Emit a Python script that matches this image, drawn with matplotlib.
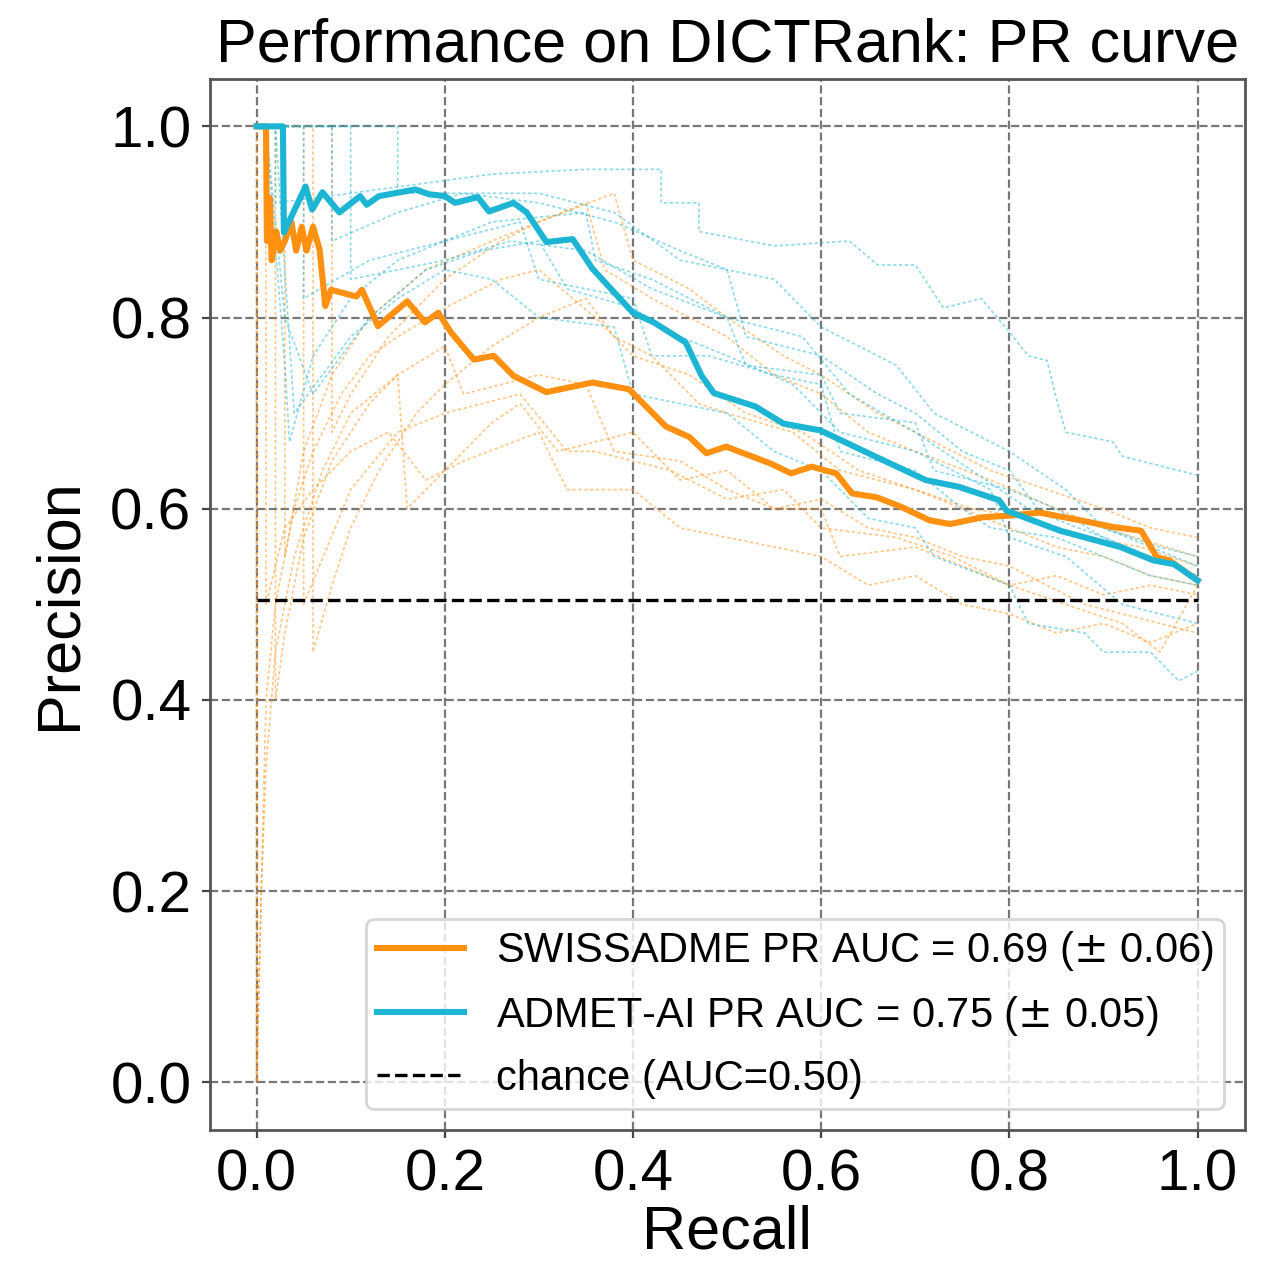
import matplotlib
matplotlib.use("Agg")
import matplotlib.pyplot as plt

plt.rcParams['font.family'] = ['Liberation Sans', 'DejaVu Sans']

ORANGE = '#ff9010'
CYAN = '#1cb5d4'

# mean curves (recall, precision)
swiss_recall = [0.000, 0.010, 0.011, 0.014, 0.016, 0.021, 0.025, 0.030, 0.037, 0.042, 0.048,
                0.053, 0.060, 0.067, 0.073, 0.079, 0.106, 0.112, 0.129, 0.160, 0.179, 0.193,
                0.207, 0.231, 0.252, 0.273, 0.308, 0.357, 0.396, 0.435, 0.460, 0.478, 0.499,
                0.547, 0.568, 0.590, 0.616, 0.633, 0.659, 0.685, 0.715, 0.737, 0.771, 0.802,
                0.832, 0.875, 0.910, 0.940, 0.957, 0.970, 1.000]
swiss_precision = [1.000, 1.000, 0.880, 0.925, 0.860, 0.890, 0.870, 0.880, 0.900, 0.870, 0.895,
                   0.870, 0.895, 0.871, 0.812, 0.829, 0.822, 0.829, 0.791, 0.817, 0.795, 0.805,
                   0.784, 0.756, 0.760, 0.739, 0.722, 0.732, 0.725, 0.686, 0.675, 0.658, 0.665,
                   0.647, 0.637, 0.644, 0.637, 0.616, 0.612, 0.602, 0.588, 0.584, 0.591, 0.593,
                   0.596, 0.588, 0.581, 0.577, 0.549, 0.546, 0.525]

admet_recall = [0.000, 0.028, 0.029, 0.052, 0.059, 0.070, 0.088, 0.110, 0.117, 0.130, 0.169,
                0.183, 0.200, 0.211, 0.235, 0.247, 0.273, 0.287, 0.308, 0.336, 0.357, 0.400,
                0.422, 0.456, 0.473, 0.486, 0.530, 0.560, 0.599, 0.659, 0.711, 0.746, 0.789,
                0.797, 0.854, 0.918, 0.953, 0.975, 1.000]
admet_precision = [1.000, 1.000, 0.889, 0.937, 0.913, 0.931, 0.910, 0.927, 0.918, 0.927, 0.934,
                   0.929, 0.927, 0.920, 0.926, 0.911, 0.920, 0.910, 0.879, 0.882, 0.851, 0.805,
                   0.795, 0.774, 0.739, 0.721, 0.707, 0.689, 0.682, 0.654, 0.630, 0.623, 0.609,
                   0.598, 0.577, 0.560, 0.546, 0.542, 0.525]

# per-fold curves
swiss_folds_recall = [
    [0, 0, 0.005, 0.01, 0.02, 0.04, 0.07, 0.1, 0.15, 0.2, 0.22, 0.3, 0.35, 0.38, 0.45, 0.5, 0.55, 0.6, 0.62, 0.7, 0.75, 0.8, 0.85, 0.9, 0.95, 1.0],
    [0, 0.02, 0.02, 0.03, 0.05, 0.08, 0.12, 0.15, 0.16, 0.2, 0.25, 0.28, 0.32, 0.4, 0.45, 0.5, 0.55, 0.6, 0.65, 0.7, 0.75, 0.8, 0.88, 0.92, 1.0],
    [0, 0.06, 0.06, 0.08, 0.1, 0.13, 0.17, 0.2, 0.25, 0.3, 0.35, 0.38, 0.42, 0.47, 0.5, 0.57, 0.62, 0.7, 0.75, 0.8, 0.85, 0.9, 0.95, 1.0],
    [0, 0.03, 0.03, 0.05, 0.08, 0.12, 0.18, 0.25, 0.3, 0.35, 0.37, 0.42, 0.5, 0.55, 0.6, 0.65, 0.7, 0.78, 0.85, 0.9, 1.0],
    [0, 0.01, 0.01, 0.03, 0.06, 0.1, 0.14, 0.18, 0.22, 0.3, 0.33, 0.4, 0.45, 0.5, 0.55, 0.6, 0.65, 0.7, 0.75, 0.8, 0.85, 0.9, 0.95, 1.0],
    [0, 0, 0.01, 0.02, 0.04, 0.06, 0.09, 0.12, 0.15, 0.2, 0.26, 0.3, 0.36, 0.4, 0.46, 0.52, 0.58, 0.64, 0.7, 0.76, 0.82, 0.88, 0.94, 1.0],
    [0, 0.08, 0.08, 0.1, 0.14, 0.2, 0.26, 0.3, 0.38, 0.40, 0.46, 0.5, 0.56, 0.6, 0.66, 0.72, 0.78, 0.84, 0.9, 0.95, 1.0],
    [0, 0.05, 0.05, 0.1, 0.15, 0.2, 0.28, 0.33, 0.36, 0.44, 0.5, 0.56, 0.6, 0.68, 0.74, 0.8, 0.86, 0.92, 0.96, 1.0],
]
swiss_folds_precision = [
    [1, 0, 0.2, 0.33, 0.45, 0.55, 0.64, 0.70, 0.74, 0.77, 0.72, 0.74, 0.73, 0.66, 0.65, 0.62, 0.60, 0.60, 0.55, 0.56, 0.54, 0.52, 0.53, 0.51, 0.52, 0.51],
    [1, 1, 0.4, 0.47, 0.57, 0.65, 0.71, 0.74, 0.60, 0.64, 0.69, 0.71, 0.66, 0.68, 0.63, 0.64, 0.60, 0.61, 0.58, 0.57, 0.55, 0.54, 0.50, 0.49, 0.47],
    [1, 1, 0.45, 0.52, 0.58, 0.64, 0.70, 0.73, 0.77, 0.80, 0.82, 0.78, 0.76, 0.71, 0.70, 0.68, 0.64, 0.62, 0.60, 0.58, 0.56, 0.55, 0.53, 0.52],
    [1, 1, 0.55, 0.66, 0.74, 0.80, 0.85, 0.88, 0.90, 0.92, 0.85, 0.82, 0.78, 0.74, 0.72, 0.68, 0.66, 0.63, 0.60, 0.58, 0.55],
    [1, 1, 0.5, 0.58, 0.62, 0.66, 0.68, 0.63, 0.65, 0.68, 0.62, 0.62, 0.58, 0.57, 0.56, 0.55, 0.52, 0.53, 0.50, 0.49, 0.47, 0.48, 0.46, 0.48],
    [1, 0, 0.4, 0.5, 0.6, 0.66, 0.72, 0.76, 0.78, 0.81, 0.84, 0.85, 0.80, 0.76, 0.74, 0.70, 0.68, 0.64, 0.62, 0.60, 0.59, 0.57, 0.56, 0.54],
    [1, 1, 0.68, 0.72, 0.78, 0.84, 0.88, 0.90, 0.93, 0.86, 0.83, 0.80, 0.76, 0.74, 0.70, 0.67, 0.64, 0.62, 0.60, 0.58, 0.57],
    [1, 1, 0.5, 0.62, 0.68, 0.70, 0.72, 0.66, 0.66, 0.64, 0.61, 0.62, 0.58, 0.57, 0.55, 0.52, 0.50, 0.48, 0.45, 0.52],
]

admet_folds_recall = [
    [0, 0.02, 0.02, 0.1, 0.25, 0.35, 0.40, 0.43, 0.43, 0.47, 0.47, 0.55, 0.63, 0.66, 0.70, 0.71, 0.73, 0.77, 0.80, 0.82, 0.84, 0.85, 0.86, 0.91, 0.92, 1.0],
    [0, 0.01, 0.03, 0.035, 0.06, 0.1, 0.15, 0.2, 0.25, 0.3, 0.35, 0.36, 0.42, 0.5, 0.52, 0.6, 0.62, 0.7, 0.72, 0.8, 0.85, 0.9, 0.95, 1.0],
    [0, 0.05, 0.05, 0.12, 0.2, 0.28, 0.30, 0.35, 0.40, 0.42, 0.48, 0.55, 0.6, 0.62, 0.7, 0.75, 0.78, 0.85, 0.9, 0.95, 1.0],
    [0, 0.02, 0.04, 0.1, 0.15, 0.2, 0.25, 0.3, 0.38, 0.4, 0.5, 0.55, 0.6, 0.65, 0.7, 0.72, 0.8, 0.82, 0.88, 0.9, 0.95, 0.98, 1.0],
    [0, 0.08, 0.08, 0.15, 0.22, 0.3, 0.38, 0.45, 0.5, 0.52, 0.6, 0.66, 0.7, 0.75, 0.8, 0.83, 0.9, 0.95, 1.0],
    [0, 0.01, 0.03, 0.06, 0.12, 0.18, 0.24, 0.3, 0.33, 0.4, 0.45, 0.5, 0.57, 0.62, 0.7, 0.78, 0.8, 0.86, 0.92, 1.0],
    [0, 0.15, 0.15, 0.2, 0.3, 0.38, 0.45, 0.55, 0.60, 0.68, 0.72, 0.8, 0.86, 0.9, 0.96, 1.0],
    [0, 0.1, 0.1, 0.2, 0.27, 0.35, 0.42, 0.5, 0.58, 0.63, 0.7, 0.76, 0.82, 0.9, 1.0],
]
admet_folds_precision = [
    [1, 1, 0.92, 0.93, 0.95, 0.955, 0.955, 0.955, 0.92, 0.92, 0.89, 0.875, 0.88, 0.855, 0.855, 0.84, 0.81, 0.82, 0.785, 0.76, 0.755, 0.715, 0.68, 0.67, 0.655, 0.635],
    [1, 1, 0.75, 0.67, 0.76, 0.82, 0.86, 0.88, 0.90, 0.905, 0.91, 0.86, 0.84, 0.80, 0.75, 0.74, 0.70, 0.69, 0.64, 0.62, 0.60, 0.57, 0.55, 0.53],
    [1, 1, 0.82, 0.86, 0.88, 0.90, 0.84, 0.83, 0.82, 0.76, 0.76, 0.74, 0.73, 0.66, 0.64, 0.60, 0.58, 0.57, 0.55, 0.53, 0.52],
    [1, 1, 0.7, 0.78, 0.82, 0.85, 0.84, 0.80, 0.79, 0.72, 0.70, 0.66, 0.64, 0.59, 0.58, 0.55, 0.52, 0.48, 0.47, 0.45, 0.45, 0.42, 0.43],
    [1, 1, 0.88, 0.91, 0.93, 0.92, 0.90, 0.87, 0.85, 0.78, 0.76, 0.72, 0.70, 0.66, 0.64, 0.60, 0.58, 0.56, 0.54],
    [1, 1, 0.8, 0.72, 0.80, 0.85, 0.87, 0.88, 0.83, 0.81, 0.78, 0.76, 0.73, 0.68, 0.66, 0.62, 0.57, 0.55, 0.50, 0.48],
    [1, 1, 0.93, 0.93, 0.93, 0.91, 0.86, 0.84, 0.79, 0.75, 0.70, 0.66, 0.62, 0.58, 0.56, 0.55],
    [1, 1, 0.84, 0.86, 0.88, 0.87, 0.83, 0.80, 0.78, 0.72, 0.68, 0.64, 0.60, 0.57, 0.53],
]

chance_level = 0.505
labels = ['SWISSADME PR AUC = 0.69 ($\\pm$ 0.06)',
          'ADMET-AI PR AUC = 0.75 ($\\pm$ 0.05)',
          'chance (AUC=0.50)']

fig = plt.figure(figsize=(6.35, 6.335), dpi=200)
ax = fig.add_axes([0.165, 0.108, 0.815, 0.830])

for r, p in zip(swiss_folds_recall, swiss_folds_precision):
    ax.plot(r, p, color=ORANGE, ls='--', lw=0.6, alpha=0.5, dashes=(2, 1.5))
for r, p in zip(admet_folds_recall, admet_folds_precision):
    ax.plot(r, p, color=CYAN, ls='--', lw=0.6, alpha=0.5, dashes=(2, 1.5))

ax.plot(swiss_recall, swiss_precision, color=ORANGE, lw=2.2, label=labels[0])
ax.plot(admet_recall, admet_precision, color=CYAN, lw=2.2, label=labels[1])
ax.plot([0, 1], [chance_level, chance_level], color='black', ls='--', lw=1.2, label=labels[2])

ax.set_xlim(-0.05, 1.05)
ax.set_ylim(-0.05, 1.05)
ax.set_xticks([0, 0.2, 0.4, 0.6, 0.8, 1.0])
ax.set_yticks([0, 0.2, 0.4, 0.6, 0.8, 1.0])
ax.tick_params(labelsize=21, length=3, color='#444444')
ax.grid(True, ls='--', color='#777777', lw=0.8)
for s in ax.spines.values():
    s.set_color('#555555')
    s.set_linewidth(1.0)

ax.set_xlabel('Recall', fontsize=22, labelpad=1)
ax.set_ylabel('Precision', fontsize=22, labelpad=8)
ax.set_title('Performance on DICTRank: PR curve', fontsize=22, pad=6)
ax.legend(loc='lower right', fontsize=15, handlelength=2.1, handletextpad=0.75,
          borderpad=0.25, labelspacing=0.5)

fig.savefig('out.png', dpi=200)
